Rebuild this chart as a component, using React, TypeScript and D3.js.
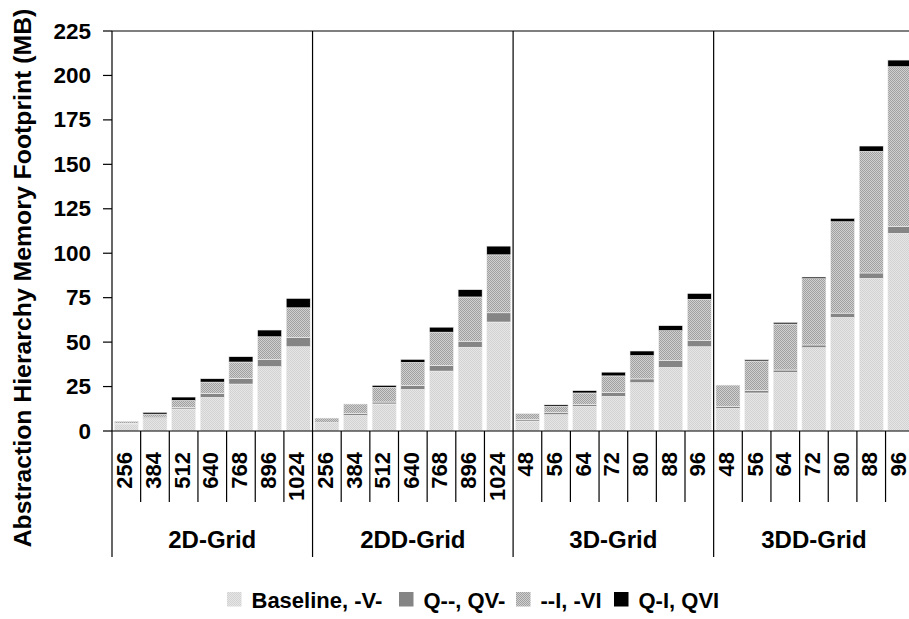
import React from "react";
import * as d3 from "d3";

const groups = ["2D-Grid", "2DD-Grid", "3D-Grid", "3DD-Grid"];
const groupSizes = [
  ["256", "384", "512", "640", "768", "896", "1024"],
  ["256", "384", "512", "640", "768", "896", "1024"],
  ["48", "56", "64", "72", "80", "88", "96"],
  ["48", "56", "64", "72", "80", "88", "96"],
];

const seriesNames = ["Baseline, -V-", "Q--, QV-", "--I, -VI", "Q-I, QVI"];

// values per group (7 each), MB
const baseline = [
  4.0, 7.0, 12.4, 18.9, 26.4, 36.2, 47.4,
  4.7, 8.8, 15.2, 23.4, 33.7, 47.1, 61.3,
  5.6, 9.2, 13.9, 19.5, 27.2, 35.8, 47.4,
  12.75, 21.4, 33.0, 46.9, 63.9, 85.9, 111.2,
];
const qv = [
  0.3, 0.8, 0.9, 2.2, 3.2, 3.9, 5.1,
  0.0, 1.1, 1.1, 2.3, 3.2, 3.4, 5.2,
  0.9, 1.1, 1.1, 2.1, 2.1, 3.75, 3.4,
  1.1, 1.3, 1.3, 1.5, 2.4, 3.0, 3.9,
];
const ivi = [
  1.2, 1.7, 3.9, 6.4, 9.2, 12.9, 16.8,
  2.6, 5.3, 8.3, 12.9, 18.7, 24.9, 32.6,
  3.4, 3.6, 6.4, 9.4, 13.1, 16.9, 23.3,
  12.0, 16.7, 25.9, 37.3, 51.4, 68.4, 89.8,
];
const qvi = [
  0.0, 1.0, 1.9, 1.9, 3.0, 3.8, 5.3,
  0.0, 0.0, 1.1, 1.7, 2.8, 4.1, 4.9,
  0.0, 0.8, 1.3, 2.1, 2.6, 2.8, 3.3,
  0.0, 0.7, 0.9, 0.9, 1.9, 3.0, 3.75,
];

const yTicks = [0, 25, 50, 75, 100, 125, 150, 175, 200, 225];

const FONT = "'Liberation Sans', Arial, sans-serif";

export default function App() {
  const W = 909;
  const H = 619;
  const left = 112;
  const right = 914.2;
  const top = 31;
  const bottom = 431;

  const cats: { key: string; label: string; group: string }[] = [];
  groups.forEach((g, gi) =>
    groupSizes[gi].forEach((s) => cats.push({ key: g + "|" + s, label: s, group: g }))
  );

  const x = d3
    .scaleBand<string>()
    .domain(cats.map((c) => c.key))
    .range([left, right])
    .paddingInner(0.16)
    .paddingOuter(0.08);
  const gx = d3.scaleBand<string>().domain(groups).range([left, right]).padding(0);
  const y = d3.scaleLinear().domain([0, 225]).range([bottom, top]);

  const rows = cats.map((c, i) => ({
    key: c.key,
    b: baseline[i],
    q: qv[i],
    i: ivi[i],
    qi: qvi[i],
  }));
  const stack = d3.stack<any>().keys(["b", "q", "i", "qi"])(rows);
  const fills = ["url(#patBase)", "#858585", "url(#patI)", "#000000"];

  const step = x.step();
  const lineEnd = 557;
  const catLineEnd = 502;

  const legendX = [227, 399, 516, 614];

  return (
    <svg
      width={W}
      height={H}
      style={{ position: "absolute", left: 0, top: 0, background: "#fff" }}
      fontFamily={FONT}
    >
      <defs>
        <pattern id="patBase" width="2" height="2" patternUnits="userSpaceOnUse">
          <rect width="2" height="2" fill="#e6e6e6" />
          <rect x="0" y="0" width="1" height="1" fill="#d2d2d2" />
          <rect x="1" y="1" width="1" height="1" fill="#d2d2d2" />
        </pattern>
        <pattern id="patI" width="2" height="2" patternUnits="userSpaceOnUse">
          <rect width="2" height="2" fill="#d0d0d0" />
          <rect x="0" y="0" width="1" height="1" fill="#a0a0a0" />
          <rect x="1" y="1" width="1" height="1" fill="#a0a0a0" />
        </pattern>
      </defs>

      {/* bars */}
      {stack.map((layer, li) => (
        <g key={li}>
          {layer.map((d: any, di: number) => {
            const h = y(d[0]) - y(d[1]);
            if (h <= 0.05) return null;
            return (
              <rect
                key={di}
                x={x(d.data.key)}
                y={y(d[1])}
                width={x.bandwidth()}
                height={h}
                fill={fills[li]}
                stroke="#f2f2f2"
                strokeWidth={0.6}
              />
            );
          })}
        </g>
      ))}

      {/* frame top */}
      <line x1={left} x2={W + 10} y1={top} y2={top} stroke="#000" strokeWidth={1.2} />
      {/* x axis baseline */}
      <line x1={left} x2={W + 10} y1={bottom} y2={bottom} stroke="#000" strokeWidth={1.2} />
      {/* y axis */}
      <line x1={left} x2={left} y1={top} y2={lineEnd} stroke="#000" strokeWidth={1.2} />
      {yTicks.map((t) => (
        <g key={t}>
          <line x1={left - 9} x2={left} y1={y(t)} y2={y(t)} stroke="#000" strokeWidth={1.2} />
          <text
            x={left - 21}
            y={y(t)}
            textAnchor="end"
            dominantBaseline="central"
            fontSize={22.5}
            fontWeight="bold"
          >
            {t}
          </text>
        </g>
      ))}

      {/* group separators */}
      {groups.map((g, gi) =>
        gi === 0 ? null : (
          <line
            key={g}
            x1={gx(g)}
            x2={gx(g)}
            y1={top}
            y2={lineEnd}
            stroke="#000"
            strokeWidth={1.2}
          />
        )
      )}
      <line x1={right} x2={right} y1={top} y2={lineEnd} stroke="#000" strokeWidth={1.2} />

      {/* category separators */}
      {cats.map((c, i) =>
        i % 7 === 0 ? null : (
          <line
            key={c.key}
            x1={left + i * step}
            x2={left + i * step}
            y1={bottom}
            y2={catLineEnd}
            stroke="#000"
            strokeWidth={1.2}
          />
        )
      )}

      {/* category labels */}
      {cats.map((c) => {
        const cx = (x(c.key) as number) + x.bandwidth() / 2;
        return (
          <text
            key={c.key}
            transform={`translate(${cx + 6},${452}) rotate(-90)`}
            textAnchor="end"
            fontSize={22}
            fontWeight="bold"
          >
            {c.label}
          </text>
        );
      })}

      {/* group labels */}
      {groups.map((g) => (
        <text
          key={g}
          x={(gx(g) as number) + gx.bandwidth() / 2}
          y={548}
          textAnchor="middle"
          fontSize={24}
          fontWeight="bold"
        >
          {g}
        </text>
      ))}

      {/* y title */}
      <text
        transform={`translate(22,278) rotate(-90)`}
        textAnchor="middle"
        dominantBaseline="central"
        fontSize={24.8}
        fontWeight="bold"
      >
        Abstraction Hierarchy Memory Footprint (MB)
      </text>

      {/* legend */}
      {seriesNames.map((s, i) => (
        <g key={s}>
          <rect x={legendX[i]} y={592} width={14.5} height={14.5} fill={fills[i]} />
          <text x={legendX[i] + 24.5} y={608} fontSize={22} fontWeight="bold">
            {s}
          </text>
        </g>
      ))}
    </svg>
  );
}
